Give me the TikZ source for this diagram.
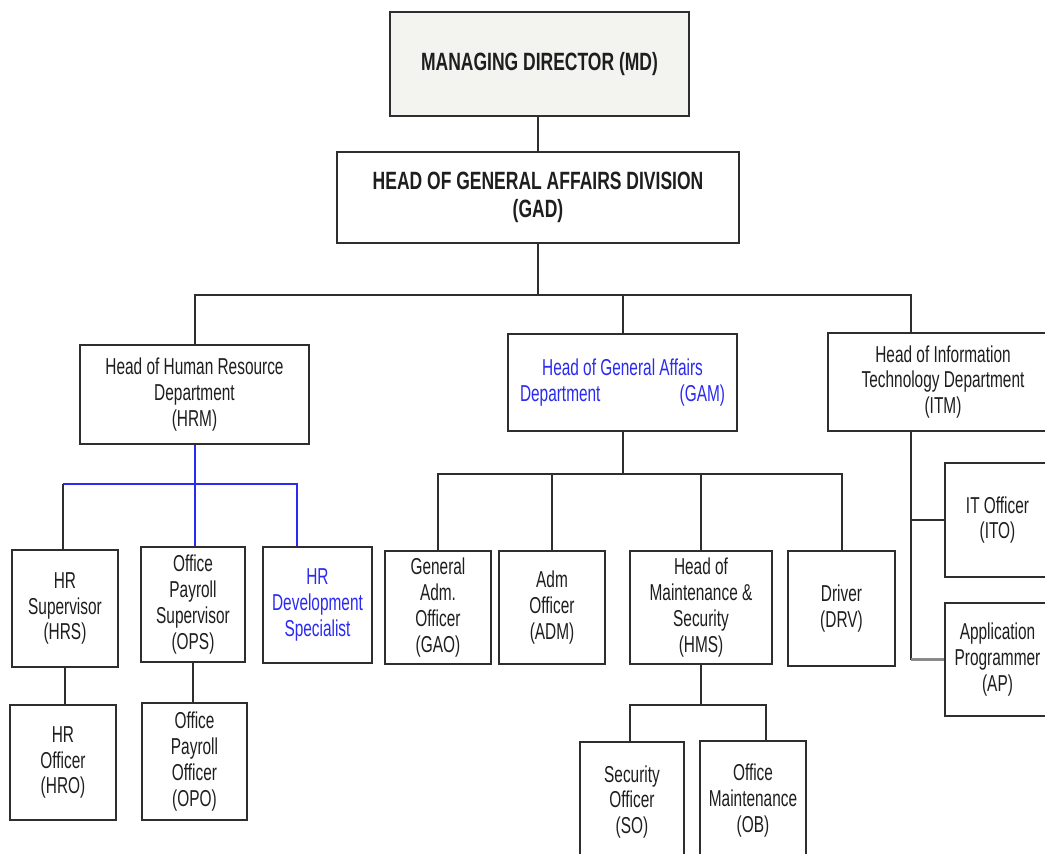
\documentclass[tikz,border=0pt]{standalone}
\usepackage{fontspec}
\setmainfont{Liberation Sans}[FakeStretch=0.67]
\newfontfamily\headfont{Liberation Sans}[FakeStretch=0.70]
\definecolor{ink}{HTML}{1E1E1E}
\definecolor{edge}{HTML}{2E2E2E}
\definecolor{hrblue}{HTML}{2A2AF0}
\definecolor{mdfill}{HTML}{F3F3EF}
\definecolor{softgray}{HTML}{8A8A8A}
\tikzset{
  unit/.style={draw=edge, line width=2.4pt, fill=white, align=center, inner sep=0pt,
    text=ink, font=\fontsize{23}{25.7}\selectfont},
  headunit/.style={unit, font=\headfont\bfseries\fontsize{25}{28}\selectfont},
  bluetext/.style={text=hrblue},
  link/.style={draw=edge, line width=2pt},
  bluelink/.style={draw=hrblue, line width=2pt},
  graylink/.style={draw=softgray, line width=2.4pt},
}
\begin{document}
\begin{tikzpicture}[x=1pt, y=-1pt]
\useasboundingbox (0,0) rectangle (1045,854);
\fill[white] (0,0) rectangle (1045,854);
\clip (0,0) rectangle (1045,854);

% top management
\node[headunit, fill=mdfill, minimum width=299pt, minimum height=104pt] (MD) at (539.5,64) {MANAGING DIRECTOR (MD)};
\node[headunit, minimum width=402pt, minimum height=91pt] (GAD) at (538,197.5) {HEAD OF GENERAL AFFAIRS DIVISION\\(GAD)};

% departments
\node[unit, minimum width=229pt, minimum height=99pt] (HRM) at (194.5,394.5) {Head of Human Resource\\Department\\(HRM)};
\node[unit, bluetext, minimum width=229pt, minimum height=97pt] (GAM) at (622.5,382.5) {Head of General Affairs\\\makebox[205pt]{Department\hfill(GAM)}};
\node[unit, minimum width=230pt, minimum height=98pt] (ITM) at (943,382) {Head of Information\\Technology Department\\(ITM)};

% human resource staff
\node[unit, minimum width=106pt, minimum height=117pt] (HRS) at (65,608.5) {HR\\Supervisor\\(HRS)};
\node[unit, minimum width=104pt, minimum height=115pt] (OPS) at (193,604.5) {Office\\Payroll\\Supervisor\\(OPS)};
\node[unit, bluetext, minimum width=109pt, minimum height=116pt] (HRDS) at (317.5,605) {HR\\Development\\Specialist};
\node[unit, minimum width=106pt, minimum height=115pt] (HRO) at (63,762.5) {HR\\Officer\\(HRO)};
\node[unit, minimum width=105pt, minimum height=117pt] (OPO) at (194.5,761.5) {Office\\Payroll\\Officer\\(OPO)};

% general affairs staff
\node[unit, minimum width=106pt, minimum height=113pt] (GAO) at (438,607.5) {General\\Adm.\\Officer\\(GAO)};
\node[unit, minimum width=106pt, minimum height=113pt] (ADM) at (552,607.5) {Adm\\Officer\\(ADM)};
\node[unit, minimum width=142pt, minimum height=113pt] (HMS) at (701,607.5) {Head of\\Maintenance \&\\Security\\(HMS)};
\node[unit, minimum width=107pt, minimum height=115pt] (DRV) at (841.5,608.5) {Driver\\(DRV)};
\node[unit, minimum width=104pt, minimum height=120pt] (SO) at (632,802) {Security\\Officer\\(SO)};
\node[unit, minimum width=106pt, minimum height=119pt] (OB) at (753,800.5) {Office\\Maintenance\\(OB)};

% information technology staff
\node[unit, minimum width=105pt, minimum height=114pt] (ITO) at (997.5,520) {IT Officer\\(ITO)};
\node[unit, minimum width=105pt, minimum height=113pt] (AP) at (997.5,659.5) {Application\\Programmer\\(AP)};

% junction points of the buses
\coordinate (topbus) at (538,295);
\coordinate (itdrop) at (911,295);
\coordinate (hrbus) at (195,484);
\coordinate (hrL) at (63,484);
\coordinate (hrR) at (297,484);
\coordinate (gabus) at (622,474);
\coordinate (hmsL) at (630,705);
\coordinate (hmsR) at (766,705);

% top levels
\draw[link] (GAD.north |- MD.south) -- (GAD.north);
\draw[link] (GAD.south) -- (topbus);
\draw[link] (HRM.north) |- (itdrop) -- (itdrop |- ITM.north);
\draw[link] (GAM.north) -- (GAM.north |- topbus);

% human resource department
\draw[bluelink] (HRM.south) -- (HRM.south |- hrbus);
\draw[bluelink] (hrL) -- (hrR) -- (hrR |- HRDS.north);
\draw[bluelink] (HRM.south |- hrbus) -- (HRM.south |- OPS.north);
\draw[link] (hrL) -- (hrL |- HRS.north);
\draw[link] (HRS.south) -- (HRS.south |- HRO.north);
\draw[link] (OPS.south) -- (OPS.south |- OPO.north);

% general affairs department
\draw[link] (GAM.south) -- (GAM.south |- gabus);
\draw[link] (GAO.north) |- (gabus) -| (DRV.north);
\draw[link] (ADM.north) -- (ADM.north |- gabus);
\draw[link] (HMS.north) -- (HMS.north |- gabus);
\draw[link] (HMS.south) -- (HMS.south |- hmsL);
\draw[link] (hmsL |- SO.north) -- (hmsL) -- (hmsR) -- (hmsR |- OB.north);

% information technology department
\draw[link] (itdrop |- ITM.south) -- (itdrop |- AP.west);
\draw[link] (itdrop |- ITO.west) -- (ITO.west);
\draw[graylink] (itdrop |- AP.west) -- (AP.west);
\end{tikzpicture}
\end{document}
